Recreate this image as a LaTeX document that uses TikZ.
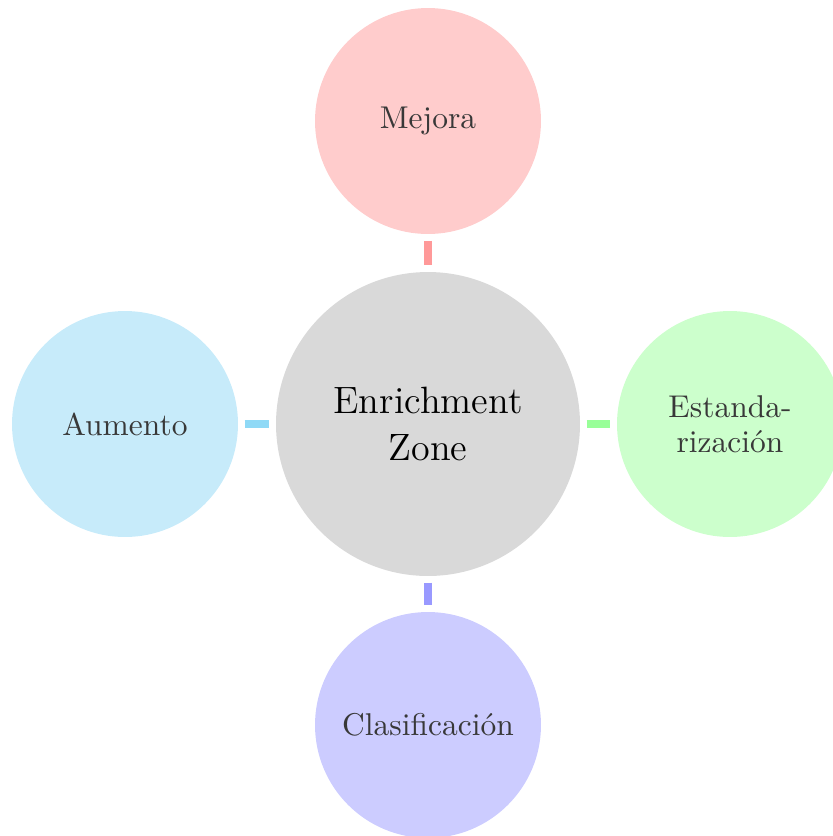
\documentclass[tikz,border=0pt]{standalone}
\begin{document}
\begin{tikzpicture}[x=0.3257pt,y=-0.3257pt,
  hub/.style={circle,inner sep=0pt,minimum size=99pt,align=center,
    font=\fontsize{12.4}{15.2}\selectfont},
  bubble/.style={circle,inner sep=0pt,minimum size=73.6pt,text=black!78,
    align=center,font=\fontsize{10.25}{11.5}\selectfont},
  link/.style={line width=2.6pt,shorten <=2pt,shorten >=2pt}]
\definecolor{hubfill}{HTML}{D9D9D9}
\definecolor{redfill}{HTML}{FFCCCC}\definecolor{redline}{HTML}{FF9999}
\definecolor{cyanfill}{HTML}{C7EBFA}\definecolor{cyanline}{HTML}{8FD9F6}
\definecolor{greenfill}{HTML}{CCFFCC}\definecolor{greenline}{HTML}{99FF99}
\definecolor{bluefill}{HTML}{CCCCFF}\definecolor{blueline}{HTML}{9999FF}
\useasboundingbox (0,0) rectangle (833,836);
\clip (0,0) rectangle (833,836);
\node[hub,fill=hubfill] (hub) at (428,424) {Enrichment\\Zone};
\node[bubble,fill=redfill] (top) at (428,121) {Mejora};
\node[bubble,fill=cyanfill] (left) at (125,424) {Aumento};
\node[bubble,fill=greenfill] (right) at (730,424) {Estanda-\\rización};
\node[bubble,fill=bluefill] (bottom) at (428,725) {Clasificación};
\draw[link,redline] (top.south) -- (hub.north);
\draw[link,cyanline] (left.east) -- (hub.west);
\draw[link,greenline] (hub.east) -- (right.west);
\draw[link,blueline] (hub.south) -- (bottom.north);
\end{tikzpicture}
\end{document}
